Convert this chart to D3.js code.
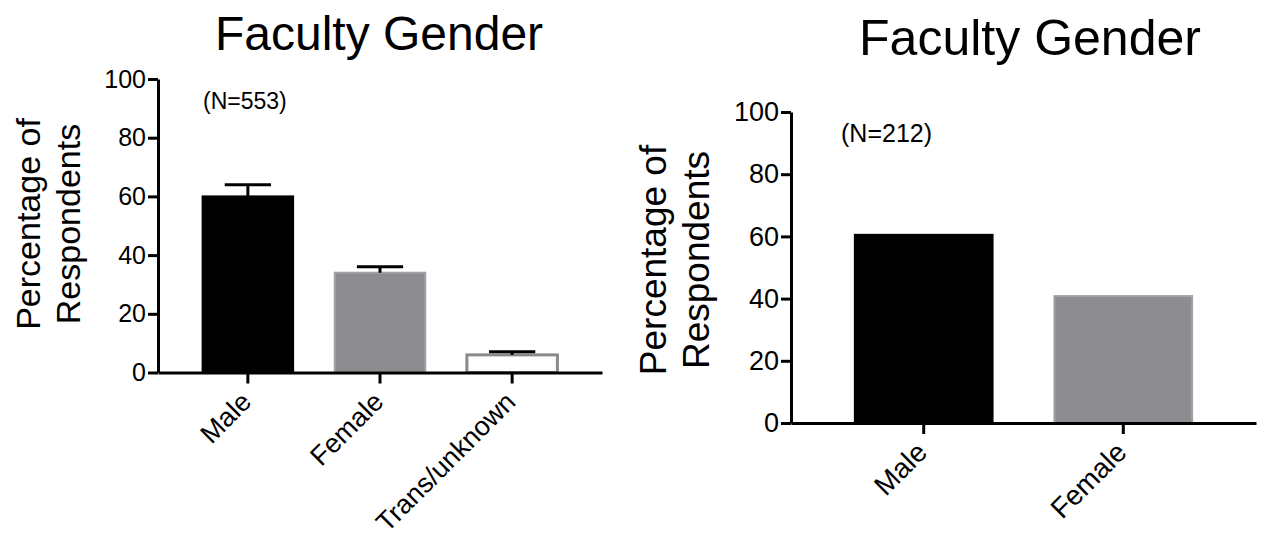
<!DOCTYPE html>
<html>
<head>
<meta charset="utf-8">
<script src="https://cdn.jsdelivr.net/npm/d3@7"></script>
<style>
  html, body { margin: 0; padding: 0; background: #fff; }
  svg { display: block; font-family: "Liberation Sans", Arial, Helvetica, sans-serif; }
</style>
</head>
<body>
<svg id="chart" width="1267" height="536"></svg>
<script>
// ---- data ----
const titleText = "Faculty Gender";
const yLabelLines = ["Percentage of", "Respondents"];
const yTickValues = [0, 20, 40, 60, 80, 100];

const leftCategories = ["Male", "Female", "Trans/unknown"];
const leftValues = [60, 34, 6];
const leftErrors = [4, 2, 1.1];
const leftNote = "(N=553)";

const rightCategories = ["Male", "Female"];
const rightValues = [60.5, 40.8];
const rightNote = "(N=212)";

const barFills = ["#000000", "#8d8d91", "#ffffff"];
const barStrokes = ["#000000", "#a2a2a4", "#8a8a8a"];

// ---- drawing ----
const svg = d3.select("#chart");

function drawPanel(cfg) {
  const g = svg.append("g");
  const x = d3.scaleBand().domain(cfg.categories).range(cfg.xRange)
    .paddingInner(cfg.padInner).paddingOuter(cfg.padOuter);
  const y = d3.scaleLinear().domain([0, 100]).range(cfg.yRange);
  const bw = x.bandwidth();

  // bars
  g.selectAll("rect.bar").data(cfg.values).enter().append("rect")
    .attr("class", "bar")
    .attr("x", (d, i) => x(cfg.categories[i]) + 1)
    .attr("width", bw - 2)
    .attr("y", d => y(d))
    .attr("height", d => y(0) - y(d))
    .attr("fill", (d, i) => barFills[i])
    .attr("stroke", (d, i) => barStrokes[i])
    .attr("stroke-width", (d, i) => i === 2 ? 3 : 2);

  // error bars
  if (cfg.errors) {
    const eg = g.selectAll("g.err").data(cfg.values).enter().append("g").attr("class", "err");
    eg.append("line")
      .attr("x1", (d, i) => x(cfg.categories[i]) + bw / 2)
      .attr("x2", (d, i) => x(cfg.categories[i]) + bw / 2)
      .attr("y1", d => y(d))
      .attr("y2", (d, i) => y(d + cfg.errors[i]))
      .attr("stroke", "#000").attr("stroke-width", 3);
    eg.append("line")
      .attr("x1", (d, i) => x(cfg.categories[i]) + bw / 4)
      .attr("x2", (d, i) => x(cfg.categories[i]) + bw * 3 / 4)
      .attr("y1", (d, i) => y(d + cfg.errors[i]))
      .attr("y2", (d, i) => y(d + cfg.errors[i]))
      .attr("stroke", "#000").attr("stroke-width", 3);
  }

  // x axis
  const xa = g.append("g").attr("transform", `translate(0,${y(0)})`)
    .call(d3.axisBottom(x).tickSize(11).tickSizeOuter(0));
  xa.select(".domain").attr("stroke", "#000").attr("stroke-width", 3);
  xa.selectAll(".tick line").attr("stroke", "#000").attr("stroke-width", 3);
  xa.selectAll(".tick text")
    .attr("x", 0).attr("y", 0).attr("dy", 0)
    .attr("text-anchor", "end")
    .attr("transform", `translate(${cfg.labelDx},${cfg.labelDy}) rotate(-45)`)
    .attr("fill", "#000")
    .style("font-size", cfg.xFont + "px")
    .style("font-family", '"Liberation Sans", Arial, Helvetica, sans-serif');

  // y axis
  const ya = g.append("g").attr("transform", `translate(${cfg.xRange[0]},0)`)
    .call(d3.axisLeft(y).tickValues(yTickValues).tickSize(10).tickSizeOuter(0).tickPadding(2));
  ya.select(".domain").attr("stroke", "#000").attr("stroke-width", 3);
  ya.selectAll(".tick line").attr("stroke", "#000").attr("stroke-width", 3);
  ya.selectAll(".tick text")
    .attr("fill", "#000")
    .style("font-size", cfg.yFont + "px")
    .style("font-family", '"Liberation Sans", Arial, Helvetica, sans-serif');

  // y label (two lines)
  yLabelLines.forEach((t, i) => {
    g.append("text")
      .attr("transform", `translate(${cfg.yLabelX[i]},${cfg.yLabelY}) rotate(-90)`)
      .attr("text-anchor", "middle")
      .style("font-size", cfg.yLabelFont + "px")
      .attr("fill", "#000")
      .text(t);
  });

  // title
  g.append("text")
    .attr("x", cfg.titleX).attr("y", cfg.titleY)
    .attr("text-anchor", "middle")
    .style("font-size", cfg.titleFont + "px")
    .attr("fill", "#000")
    .text(titleText);

  // N note
  g.append("text")
    .attr("x", cfg.noteX).attr("y", cfg.noteY)
    .style("font-size", cfg.noteFont + "px")
    .attr("fill", "#000")
    .text(cfg.note);
}

drawPanel({
  categories: leftCategories, values: leftValues, errors: leftErrors, note: leftNote,
  xRange: [158, 602], yRange: [372.5, 79], padInner: 0.3, padOuter: 0.33,
  labelDx: 5, labelDy: 31, xFont: 27, yFont: 25,
  yLabelX: [40, 80], yLabelY: 224, yLabelFont: 34,
  titleX: 379, titleY: 50, titleFont: 48,
  noteX: 203, noteY: 109, noteFont: 23
});

drawPanel({
  categories: rightCategories, values: rightValues, errors: null, note: rightNote,
  xRange: [791, 1256], yRange: [423, 112], padInner: 0.3, padOuter: 0.315,
  labelDx: 5, labelDy: 31, xFont: 28, yFont: 27,
  yLabelX: [666, 709], yLabelY: 260, yLabelFont: 37,
  titleX: 1030, titleY: 55, titleFont: 50,
  noteX: 841, noteY: 142, noteFont: 25
});
</script>
</body>
</html>
